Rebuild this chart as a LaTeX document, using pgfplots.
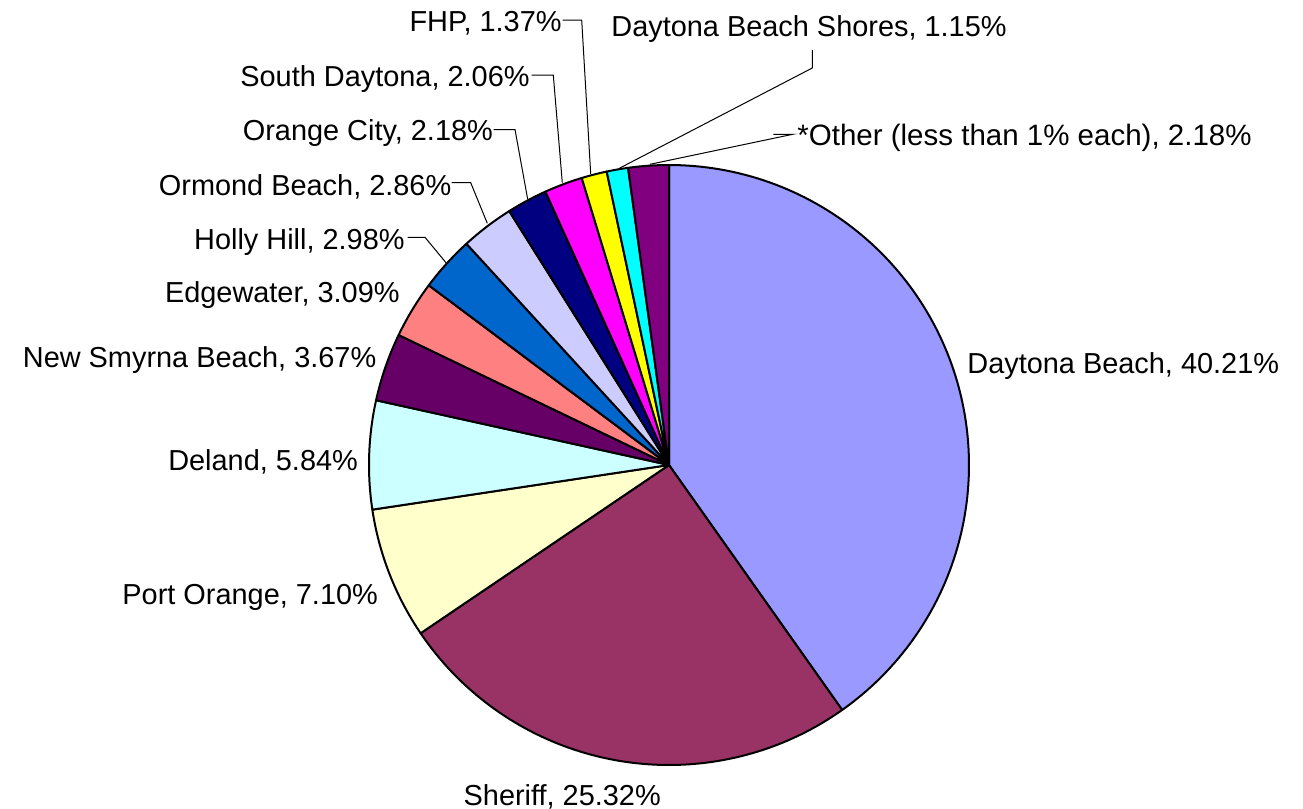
\documentclass[border=0pt]{standalone}
\usepackage{pgfplots}
\pgfplotsset{compat=1.18}
\usepackage{pgfplotstable}
\usepackage{fontspec}
\setmainfont{Liberation Sans}
\definecolor{cDB}{HTML}{9999FF}
\definecolor{cSh}{HTML}{993366}
\definecolor{cPO}{HTML}{FFFFCC}
\definecolor{cDe}{HTML}{CCFFFF}
\definecolor{cNS}{HTML}{660066}
\definecolor{cEd}{HTML}{FF8080}
\definecolor{cHH}{HTML}{0066CC}
\definecolor{cOB}{HTML}{CCCCFF}
\definecolor{cOC}{HTML}{000080}
\definecolor{cSD}{HTML}{FF00FF}
\definecolor{cFH}{HTML}{FFFF00}
\definecolor{cDS}{HTML}{00FFFF}
\definecolor{cOt}{HTML}{800080}

% share (%) and colour of each slice, clockwise from 12 o'clock
\pgfplotstableread{
pct   col
40.21 cDB
25.32 cSh
7.10  cPO
5.84  cDe
3.67  cNS
3.09  cEd
2.98  cHH
2.86  cOB
2.18  cOC
2.06  cSD
1.37  cFH
1.15  cDS
2.18  cOt
}\piedata

\begin{document}
\begin{tikzpicture}
\begin{axis}[hide axis, scale only axis, width=651.5pt, height=404.5pt,
  xmin=0, xmax=1303, ymin=0, ymax=809, y dir=reverse, clip=false]
\pgfmathsetmacro\cum{0}
\pgfplotsforeachungrouped \i in {0,...,12}{%
  \pgfplotstablegetelem{\i}{pct}\of\piedata \let\p\pgfplotsretval
  \pgfplotstablegetelem{\i}{col}\of\piedata \let\c\pgfplotsretval
  \pgfmathsetmacro\a{90-3.59964*(\cum+\p)}%
  \pgfmathsetmacro\b{90-3.59964*\cum}%
  \pgfmathsetmacro\cum{\cum+\p}%
  \edef\temp{\noexpand\addplot[draw=black, line width=1pt, line join=round, fill=\c, domain=\a:\b, samples=120, variable=\noexpand\t]
    ({669+300*cos(\noexpand\t)},{465-300*sin(\noexpand\t)}) -- (669,465) -- cycle;}%
  \temp
}
% leader lines
\addplot[black, line width=0.5pt] coordinates {(407.7,237.3) (425,237.3) (446,262.7)};
\addplot[black, line width=0.5pt] coordinates {(451.7,182.7) (470.7,182.7) (487.3,223.3)};
\addplot[black, line width=0.5pt] coordinates {(493.5,129.5) (515,129.5) (527.7,199.3)};
\addplot[black, line width=0.5pt] coordinates {(531.7,75) (553.3,75) (562.3,182.7)};
\addplot[black, line width=0.5pt] coordinates {(562.7,20) (581.7,20) (590.7,174)};
\addplot[black, line width=0.5pt] coordinates {(812.3,50) (812.3,68) (619.3,168.3)};
\addplot[black, line width=0.5pt] coordinates {(773.3,134.3) (792.7,134.3) (650,164.3)};
% labels
\tikzset{lab/.style={inner sep=0pt, font=\fontsize{14.45}{17}\selectfont}}
\node[lab, anchor=base west] at (axis cs:967,373.3) {Daytona Beach, 40.21\%};
\node[lab, anchor=base west] at (axis cs:463.3,805) {Sheriff, 25.32\%};
\node[lab, anchor=base east] at (axis cs:378.3,604) {Port Orange, 7.10\%};
\node[lab, anchor=base east] at (axis cs:358.3,470.7) {Deland, 5.84\%};
\node[lab, anchor=base east] at (axis cs:376.7,367.3) {New Smyrna Beach, 3.67\%};
\node[lab, anchor=base east] at (axis cs:400,302.3) {Edgewater, 3.09\%};
\node[lab, anchor=base east] at (axis cs:405,249) {Holly Hill, 2.98\%};
\node[lab, anchor=base east] at (axis cs:451.7,195) {Ormond Beach, 2.86\%};
\node[lab, anchor=base east] at (axis cs:493.3,140) {Orange City, 2.18\%};
\node[lab, anchor=base east] at (axis cs:530,86) {South Daytona, 2.06\%};
\node[lab, anchor=base east] at (axis cs:562,31.7) {FHP, 1.37\%};
\node[lab, anchor=base west] at (axis cs:611,36.7) {Daytona Beach Shores, 1.15\%};
\node[lab, anchor=base west, font=\fontsize{14.75}{17}\selectfont] at (axis cs:797,145.5) {*Other (less than 1\% each), 2.18\%};
\end{axis}
\pgfresetboundingbox
\useasboundingbox (0,0) rectangle (651.5pt,404.5pt);
\end{tikzpicture}
\end{document}
